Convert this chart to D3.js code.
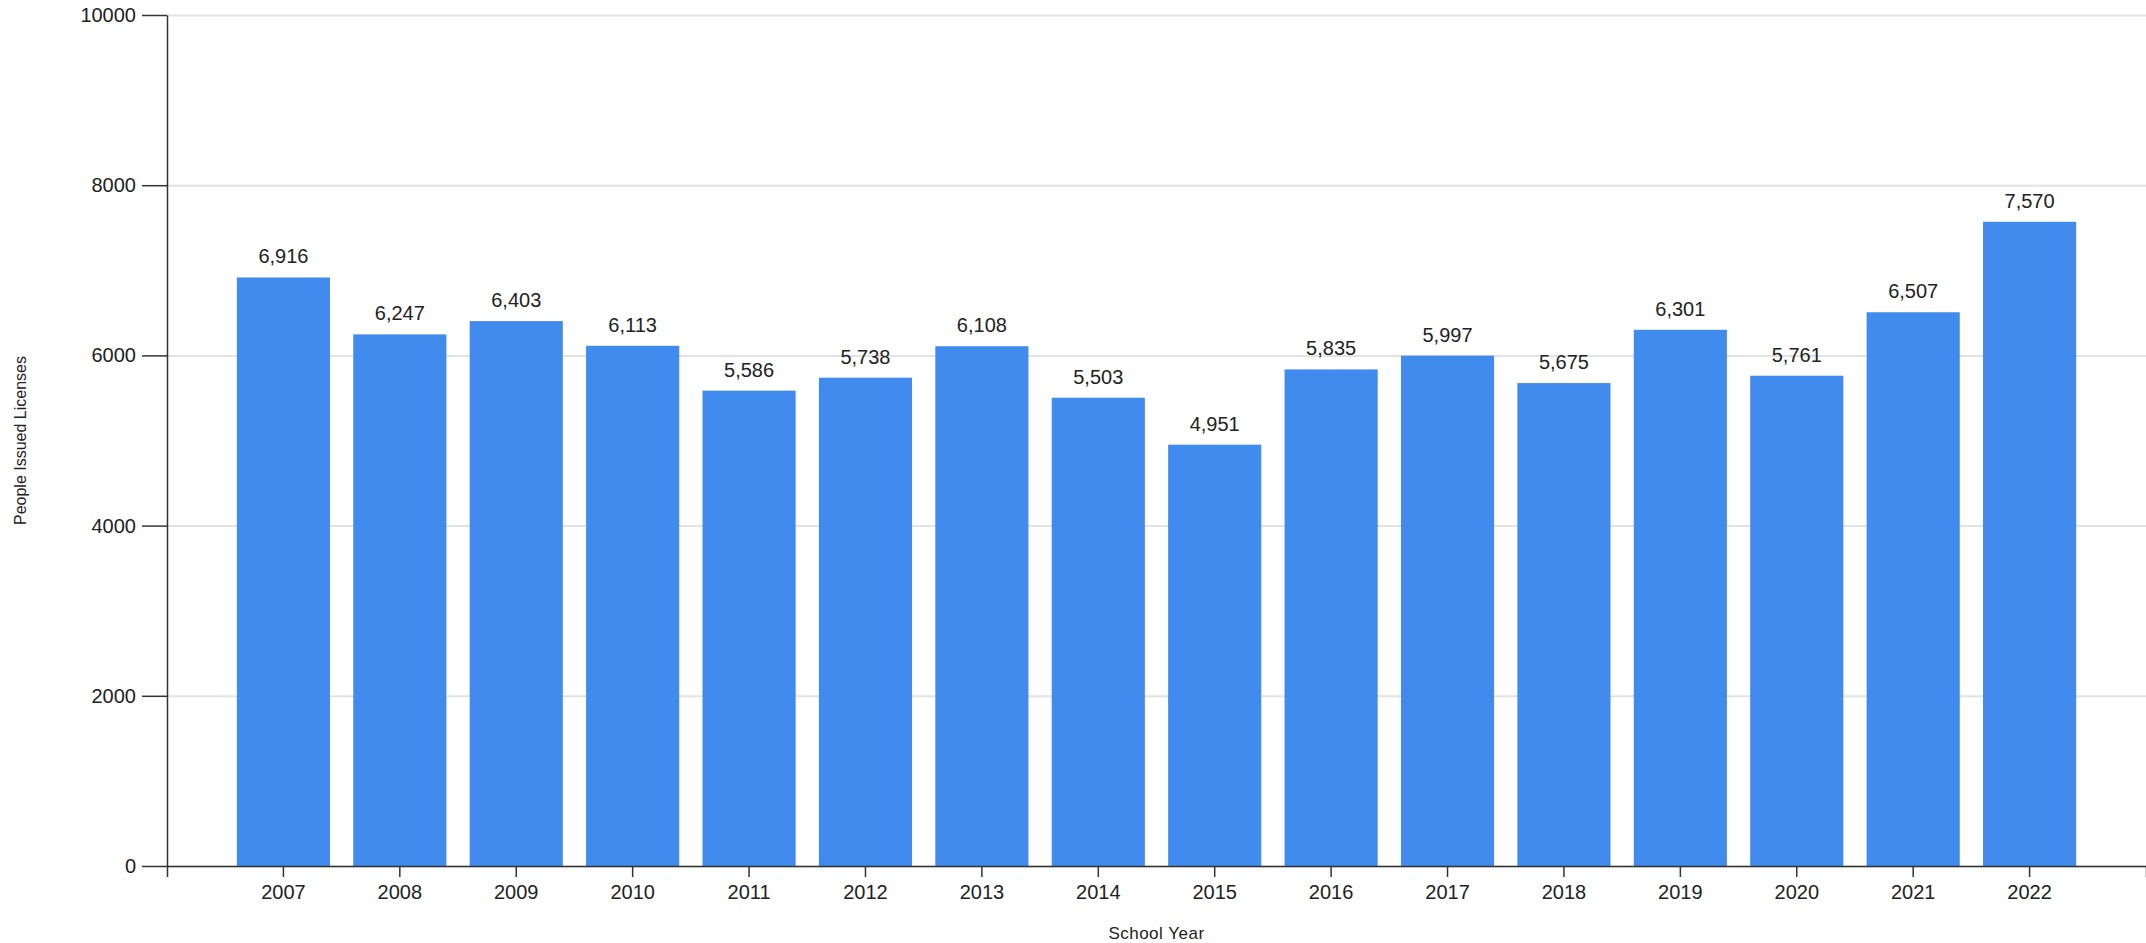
<!DOCTYPE html>
<html>
<head>
<meta charset="utf-8">
<script src="https://cdn.jsdelivr.net/npm/d3@7"></script>
<style>
  body { margin: 0; background: #fff; }
  svg text { font-family: "Liberation Sans", Arial, sans-serif; fill: #222; }
  .grid line { stroke: #e3e3e3; stroke-width: 2; }
  .grid path { display: none; }
</style>
</head>
<body>
<div id="chart"></div>
<script>
const years = ["2007", "2008", "2009", "2010", "2011", "2012", "2013", "2014",
               "2015", "2016", "2017", "2018", "2019", "2020", "2021", "2022"];
const licenses = [6916, 6247, 6403, 6113, 5586, 5738, 6108, 5503,
                  4951, 5835, 5997, 5675, 6301, 5761, 6507, 7570];
const yTicks = [0, 2000, 4000, 6000, 8000, 10000];

const W = 2146, H = 943;
const margin = {top: 15, right: 0, bottom: 77, left: 167},
      width = W - margin.left - margin.right,
      height = H - margin.top - margin.bottom;

const data = years.map((y, i) => ({year: y, value: licenses[i]}));

const svg = d3.select("#chart")
    .append("svg")
    .attr("width", W)
    .attr("height", H)
    .append("g")
    .attr("transform", `translate(${margin.left},${margin.top})`);

const x = d3.scaleBand()
    .domain(years)
    .range([0, width])
    .paddingInner(0.2)
    .paddingOuter(0.6);

const y = d3.scaleLinear()
    .domain([0, 10000])
    .range([height, 0]);

// gridlines
svg.append("g")
    .attr("class", "grid")
    .call(d3.axisLeft(y).tickValues(yTicks).tickSize(-width).tickFormat(""));

// bars
svg.selectAll(".bar")
    .data(data)
    .enter()
    .append("rect")
    .attr("class", "bar")
    .attr("x", d => x(d.year))
    .attr("y", d => y(d.value))
    .attr("width", x.bandwidth())
    .attr("height", d => height - y(d.value))
    .attr("fill", "#418bee");

// value labels
svg.selectAll(".val")
    .data(data)
    .enter()
    .append("text")
    .attr("x", d => x(d.year) + x.bandwidth() / 2)
    .attr("y", d => y(d.value) - 14)
    .attr("text-anchor", "middle")
    .style("font-size", "20px")
    .text(d => d3.format(",")(d.value));

// x axis
const xAxis = svg.append("g")
    .attr("transform", `translate(0,${height})`)
    .call(d3.axisBottom(x).tickSize(11).tickSizeOuter(11).tickPadding(8));
xAxis.selectAll("text").style("font-size", "20px");
xAxis.selectAll("line, path").attr("stroke", "#333").attr("stroke-width", 1.5);

// y axis
const yAxis = svg.append("g")
    .call(d3.axisLeft(y).tickValues(yTicks).tickFormat(d3.format("d"))
        .tickSize(25).tickSizeOuter(0).tickPadding(6));
yAxis.selectAll("text").style("font-size", "20px");
yAxis.selectAll("line, path").attr("stroke", "#333").attr("stroke-width", 1.5);

// axis titles
svg.append("text")
    .attr("x", width / 2)
    .attr("y", height + 73)
    .attr("text-anchor", "middle")
    .style("font-size", "17px")
    .style("letter-spacing", "0.5px")
    .text("School Year");

svg.append("text")
    .attr("transform", `translate(${26 - margin.left},${height / 2}) rotate(-90)`)
    .attr("text-anchor", "middle")
    .style("font-size", "16px")
    .text("People Issued Licenses");
</script>
</body>
</html>
